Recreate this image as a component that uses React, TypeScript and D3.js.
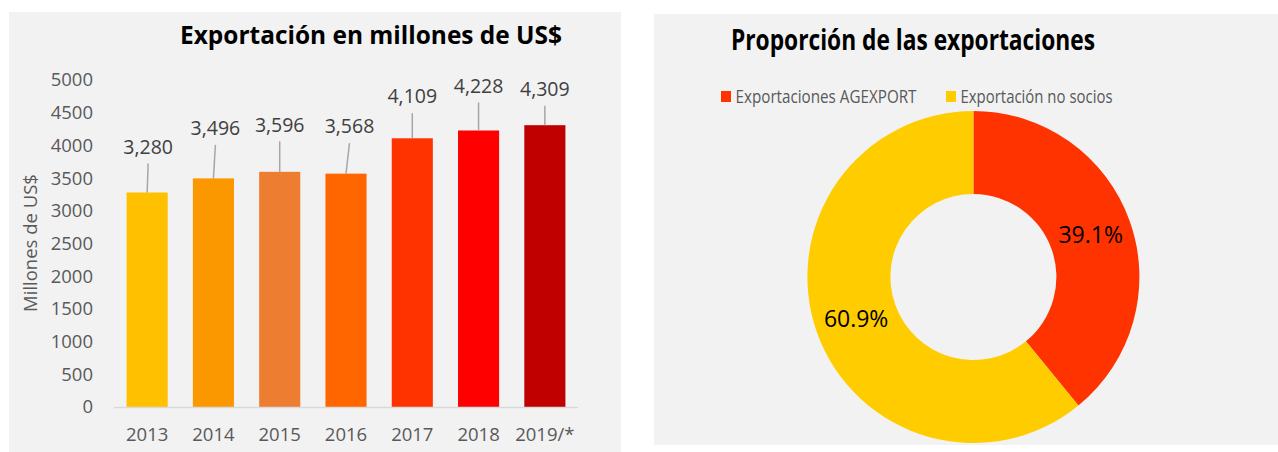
import React, { useRef, useEffect } from "react";
import * as d3 from "d3";

// bar chart data
const years = ["2013", "2014", "2015", "2016", "2017", "2018", "2019/*"];
const exportValues = [3280, 3496, 3596, 3568, 4109, 4228, 4309];
const barColors = ["#ffc000", "#fb9800", "#ed7d31", "#ff6600", "#ff3300", "#ff0000", "#c00000"];
const yTicks = [0, 500, 1000, 1500, 2000, 2500, 3000, 3500, 4000, 4500, 5000];

// data labels were dragged by hand in the original, so each one sits a bit differently
const labelLift = [45.5, 50, 47, 47, 41.6, 44.5, 36];
const labelShift = [1, 2, 0, 3.5, 0, 0, 0];

// donut data
const shareNames = ["Exportaciones AGEXPORT", "Exportación no socios"];
const shareValues = [39.1, 60.9];
const shareColors = ["#ff3300", "#ffcc00"];

const FONT = "'Open Sans', sans-serif";
const GREY_TEXT = "#595959";

const App = () => {
  const svgRef = useRef<SVGSVGElement>(null);

  useEffect(() => {
    const svg = d3.select(svgRef.current);
    svg.selectAll("*").remove();

    // ---------- left panel: bars ----------
    const left = svg.append("g");
    left.append("rect").attr("x", 9).attr("y", 12).attr("width", 612).attr("height", 440).attr("fill", "#f2f2f2");

    left
      .append("text")
      .attr("x", 371)
      .attr("y", 44)
      .attr("text-anchor", "middle")
      .attr("textLength", 382)
      .attr("lengthAdjust", "spacingAndGlyphs")
      .style("font-family", FONT)
      .style("font-weight", "bold")
      .style("font-size", "24.5px")
      .attr("fill", "#000")
      .text("Exportación en millones de US$");

    const x = d3.scaleBand().domain(years).range([114, 578]).paddingInner(0.38).paddingOuter(0.19);
    const y = d3.scaleLinear().domain([0, 5000]).range([407, 80]);

    left
      .selectAll("text.ytick")
      .data(yTicks)
      .join("text")
      .attr("class", "ytick")
      .attr("x", 93)
      .attr("y", (d) => y(d))
      .attr("dy", "0.35em")
      .attr("text-anchor", "end")
      .style("font-family", FONT)
      .style("font-size", "18.5px")
      .attr("fill", GREY_TEXT)
      .text((d) => d);

    left
      .append("text")
      .attr("transform", "translate(31,243) rotate(-90)")
      .attr("text-anchor", "middle")
      .attr("dy", "0.35em")
      .style("font-family", FONT)
      .style("font-size", "18.5px")
      .attr("fill", GREY_TEXT)
      .text("Millones de US$");

    left
      .selectAll("rect.bar")
      .data(exportValues)
      .join("rect")
      .attr("class", "bar")
      .attr("x", (d, i) => x(years[i]))
      .attr("y", (d) => y(d))
      .attr("width", x.bandwidth())
      .attr("height", (d) => y(0) - y(d))
      .attr("fill", (d, i) => barColors[i]);

    left
      .append("line")
      .attr("x1", 114)
      .attr("x2", 578)
      .attr("y1", y(0) + 0.5)
      .attr("y2", y(0) + 0.5)
      .attr("stroke", "#d9d9d9")
      .attr("stroke-width", 1.5);

    left
      .selectAll("text.xtick")
      .data(years)
      .join("text")
      .attr("class", "xtick")
      .attr("x", (d) => x(d) + x.bandwidth() / 2)
      .attr("y", 435)
      .attr("dy", "0.35em")
      .attr("text-anchor", "middle")
      .style("font-family", FONT)
      .style("font-size", "18.5px")
      .attr("fill", GREY_TEXT)
      .text((d) => d);

    // data labels with leader lines
    exportValues.forEach((v, i) => {
      const cx = x(years[i]) + x.bandwidth() / 2;
      const top = y(v);
      const lx = cx + labelShift[i];
      const ly = top - labelLift[i];

      left
        .append("line")
        .attr("x1", lx)
        .attr("y1", ly + 16.5)
        .attr("x2", cx)
        .attr("y2", top)
        .attr("stroke", "#a6a6a6")
        .attr("stroke-width", 1.5);

      left
        .append("text")
        .attr("x", lx)
        .attr("y", ly)
        .attr("dy", "0.35em")
        .attr("text-anchor", "middle")
        .style("font-family", FONT)
        .style("font-size", "19.5px")
        .attr("fill", "#404040")
        .text(d3.format(",")(v));
    });

    // ---------- right panel: donut ----------
    const right = svg.append("g");
    right.append("rect").attr("x", 654).attr("y", 14).attr("width", 624).attr("height", 431).attr("fill", "#f2f2f2");

    right
      .append("text")
      .attr("x", 913)
      .attr("y", 50)
      .attr("text-anchor", "middle")
      .attr("textLength", 364)
      .attr("lengthAdjust", "spacingAndGlyphs")
      .style("font-family", FONT)
      .style("font-weight", "bold")
      .style("font-size", "29px")
      .attr("fill", "#000")
      .text("Proporción de las exportaciones");

    // legend
    const legendX = [721, 946];
    const legendW = [181, 152];
    shareNames.forEach((name, i) => {
      right
        .append("rect")
        .attr("x", legendX[i])
        .attr("y", 91)
        .attr("width", 10)
        .attr("height", 11)
        .attr("fill", shareColors[i]);
      right
        .append("text")
        .attr("x", legendX[i] + 14.5)
        .attr("y", 102.5)
        .attr("textLength", legendW[i])
        .attr("lengthAdjust", "spacingAndGlyphs")
        .style("font-family", FONT)
        .style("font-size", "18px")
        .attr("fill", GREY_TEXT)
        .text(name);
    });

    const cx = 973.4;
    const cy = 277;
    const outerR = 166;
    const innerR = 83;

    const pie = d3.pie<number>().sort(null).value((d) => d);
    const arcs = pie(shareValues);
    const arc = d3.arc<d3.PieArcDatum<number>>().innerRadius(innerR).outerRadius(outerR);
    const labelArc = d3
      .arc<d3.PieArcDatum<number>>()
      .innerRadius((innerR + outerR) / 2)
      .outerRadius((innerR + outerR) / 2);

    const donut = right.append("g").attr("transform", `translate(${cx},${cy})`);

    donut
      .selectAll("path")
      .data(arcs)
      .join("path")
      .attr("d", arc)
      .attr("fill", (d, i) => shareColors[i]);

    donut
      .selectAll("text")
      .data(arcs)
      .join("text")
      .attr("transform", (d) => `translate(${labelArc.centroid(d)})`)
      .attr("dy", "0.35em")
      .attr("text-anchor", "middle")
      .style("font-family", FONT)
      .style("font-size", "23px")
      .attr("fill", "#000")
      .text((d) => `${d.data.toFixed(1)}%`);
  }, []);

  return (
    <div style={{ position: "absolute", left: 0, top: 0 }}>
      <svg ref={svgRef} width={1278} height={452} style={{ display: "block" }}></svg>
    </div>
  );
};

export default App;
